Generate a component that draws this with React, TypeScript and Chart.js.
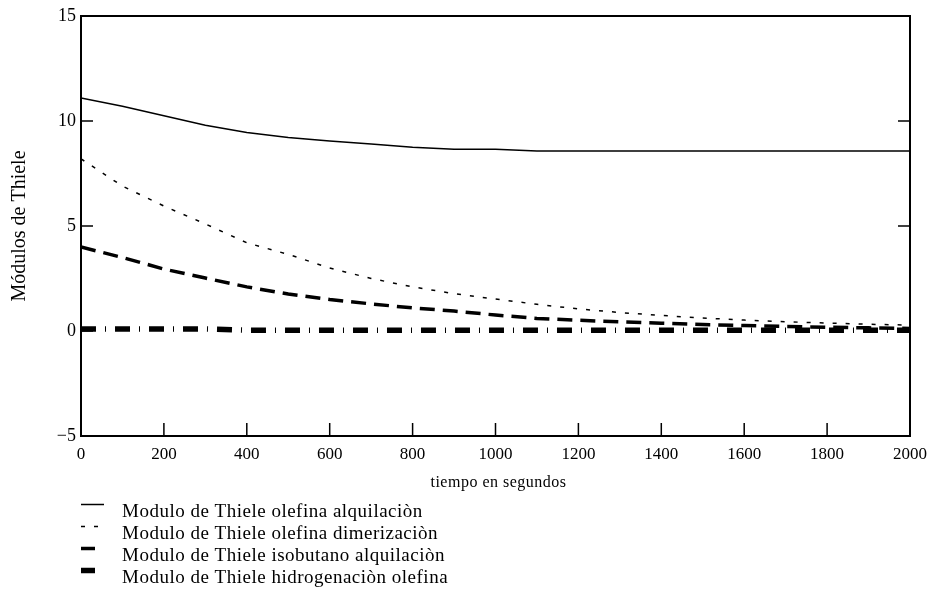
import React, { useEffect, useRef } from "react";
import { Chart, registerables } from "chart.js";

Chart.register(...registerables);

const times = [0, 100, 200, 300, 400, 500, 600, 700, 800, 900, 1000, 1100, 1200, 1300, 1400, 1500, 1600, 1700, 1800, 1900, 2000];

const olefinaAlquilacion = [11.1, 10.7, 10.25, 9.8, 9.45, 9.22, 9.05, 8.9, 8.75, 8.65, 8.65, 8.57, 8.57, 8.57, 8.57, 8.57, 8.57, 8.57, 8.57, 8.57, 8.57];
const olefinaDimerizacion = [8.2, 6.9, 5.95, 5.1, 4.2, 3.65, 3.0, 2.5, 2.1, 1.78, 1.52, 1.27, 1.05, 0.88, 0.74, 0.62, 0.52, 0.44, 0.38, 0.32, 0.28];
const isobutanoAlquilacion = [4.0, 3.5, 2.95, 2.52, 2.1, 1.76, 1.5, 1.29, 1.1, 0.95, 0.76, 0.6, 0.51, 0.44, 0.37, 0.31, 0.26, 0.22, 0.18, 0.15, 0.12];
const hidrogenacionOlefina = [0.1, 0.1, 0.1, 0.1, 0.04, 0.04, 0.04, 0.04, 0.04, 0.04, 0.04, 0.04, 0.04, 0.04, 0.04, 0.04, 0.04, 0.04, 0.04, 0.04, 0.04];

const seriesLabels = [
  "Modulo de Thiele olefina alquilaciòn",
  "Modulo de Thiele olefina dimerizaciòn",
  "Modulo de Thiele isobutano alquilaciòn",
  "Modulo de Thiele hidrogenaciòn olefina",
];

const xTickValues = [0, 200, 400, 600, 800, 1000, 1200, 1400, 1600, 1800, 2000];
const yTickValues = [-5, 0, 5, 10, 15];

const xTitle = "tiempo en segundos";
const yTitle = "Módulos de Thiele";

const FONT = "'Liberation Serif', 'Times New Roman', serif";

const styles = [
  { width: 1.5, dash: [] as number[], sample: 23 },
  { width: 1.5, dash: [4, 9], sample: 17 },
  { width: 3.5, dash: [15, 8], sample: 14 },
  { width: 5.5, dash: [15, 9, 1, 9], sample: 14 },
];

const framePlugin = {
  id: "frame",
  afterDraw(chart: any) {
    const { ctx, chartArea } = chart;
    const { left, right, top, bottom } = chartArea;
    const xs = chart.scales.x;
    const ys = chart.scales.y;
    ctx.save();
    ctx.strokeStyle = "#000";
    ctx.lineWidth = 2;
    ctx.setLineDash([]);
    ctx.strokeRect(left, top, right - left, bottom - top);
    ctx.lineWidth = 1.5;
    ctx.beginPath();
    for (const v of xTickValues) {
      const px = xs.getPixelForValue(v);
      ctx.moveTo(px, bottom);
      ctx.lineTo(px, bottom - 13);
    }
    for (const v of yTickValues) {
      const py = ys.getPixelForValue(v);
      ctx.moveTo(left, py);
      ctx.lineTo(left + 12, py);
      ctx.moveTo(right, py);
      ctx.lineTo(right - 12, py);
    }
    ctx.stroke();

    ctx.fillStyle = "#000";
    // x title
    ctx.font = `16px ${FONT}`;
    (ctx as any).letterSpacing = "0.5px";
    ctx.textAlign = "center";
    ctx.textBaseline = "middle";
    ctx.fillText(xTitle, (left + right) / 2 + 3, 483);
    (ctx as any).letterSpacing = "0px";
    // y title
    ctx.save();
    ctx.translate(20, (top + bottom) / 2);
    ctx.rotate(-Math.PI / 2);
    ctx.font = `20px ${FONT}`;
    ctx.fillText(yTitle, 0, 0);
    ctx.restore();

    // legend
    ctx.textAlign = "left";
    ctx.textBaseline = "alphabetic";
    ctx.font = `19px ${FONT}`;
    chart.data.datasets.forEach((ds: any, i: number) => {
      const base = 517 + i * 22;
      const st = styles[i];
      ctx.save();
      ctx.lineWidth = st.width;
      ctx.setLineDash(st.dash);
      ctx.beginPath();
      ctx.moveTo(81, base - 12.5);
      ctx.lineTo(81 + st.sample, base - 12.5);
      ctx.stroke();
      ctx.restore();
      (ctx as any).letterSpacing = "0.5px";
      ctx.fillText(ds.label, 122, base);
      (ctx as any).letterSpacing = "0px";
    });
    ctx.restore();
  },
};

export default function App() {
  const ref = useRef<HTMLCanvasElement | null>(null);
  useEffect(() => {
    if (!ref.current) return;
    const seriesValues = [olefinaAlquilacion, olefinaDimerizacion, isobutanoAlquilacion, hidrogenacionOlefina];
    const chart = new Chart(ref.current, {
      type: "line",
      data: {
        datasets: seriesValues.map((vals, i) => ({
          label: seriesLabels[i],
          data: times.map((t, k) => ({ x: t, y: vals[k] })),
          borderColor: "#000",
          backgroundColor: "#000",
          borderWidth: styles[i].width,
          borderDash: styles[i].dash,
          borderCapStyle: "butt" as const,
          pointRadius: 0,
          tension: 0,
          fill: false,
        })),
      },
      options: {
        animation: false,
        responsive: false,
        layout: { padding: { left: 0, top: 16, right: 25, bottom: 0 } },
        plugins: { legend: { display: false }, tooltip: { enabled: false } },
        scales: {
          x: {
            type: "linear",
            min: 0,
            max: 2000,
            afterFit: (s: any) => { s.height = 162; },
            afterBuildTicks: (s: any) => { s.ticks = xTickValues.map((v) => ({ value: v })); },
            grid: { display: false, drawTicks: false },
            border: { display: false },
            ticks: {
              padding: 8,
              color: "#000",
              font: { family: FONT, size: 17 },
              maxRotation: 0,
              callback: (v: any) => String(v),
            },
          },
          y: {
            type: "linear",
            min: -5,
            max: 15,
            afterFit: (s: any) => { s.width = 81; },
            afterBuildTicks: (s: any) => { s.ticks = yTickValues.map((v) => ({ value: v })); },
            grid: { display: false, drawTicks: false },
            border: { display: false },
            ticks: {
              padding: 5,
              color: "#000",
              font: { family: FONT, size: 18 },
              callback: (v: any) => (Number(v) < 0 ? "\u2212" + Math.abs(Number(v)) : String(v)),
            },
          },
        },
      },
      plugins: [framePlugin],
    });
    return () => chart.destroy();
  }, []);
  return (
    <div style={{ position: "absolute", left: 0, top: 0, width: 935, height: 598, background: "#fff" }}>
      <canvas ref={ref} width={935} height={598} style={{ display: "block" }} />
    </div>
  );
}
